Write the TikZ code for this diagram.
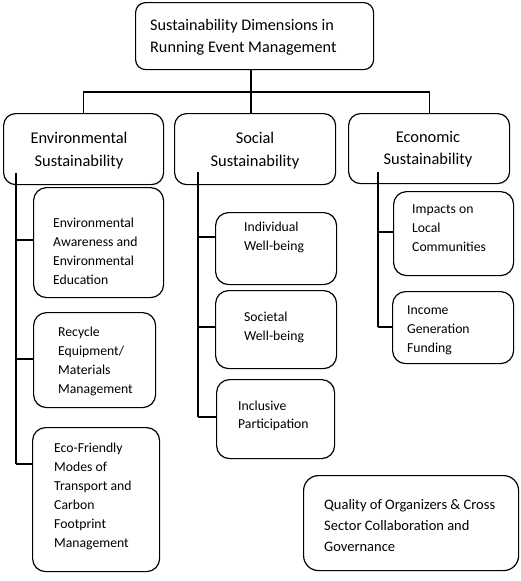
\documentclass[tikz,border=0pt]{standalone}
\usepackage{fontspec}
\setmainfont{Carlito}
\begin{document}
\begin{tikzpicture}[x=1pt,y=-1pt,
  box/.style={draw, line width=1.2pt, rounded corners=13pt, inner sep=0pt, anchor=north west},
  topbox/.style={box, rounded corners=10pt},
  lvbox/.style={box, rounded corners=12pt},
  txt/.style={inner sep=0pt, anchor=base west, align=left, font=\fontsize{13.7}{19}\selectfont},
  lvtxt/.style={inner sep=0pt, anchor=base, align=center, font=\fontsize{16.4}{23}\selectfont},
  conn/.style={line width=1.2pt}]
\useasboundingbox (0,0) rectangle (520,581);
% boxes
\node[topbox, minimum width=238pt, minimum height=67pt] (top) at (135,2) {};
\node[lvbox, minimum width=160pt, minimum height=71pt] (env) at (3,113) {};
\node[lvbox, minimum width=161pt, minimum height=71pt] (soc) at (174,113) {};
\node[lvbox, minimum width=161pt, minimum height=70pt] (eco) at (348,113) {};
\node[box, minimum width=130pt, minimum height=110pt] (e1) at (33,187) {};
\node[box, minimum width=122pt, minimum height=95pt] (e2) at (33,312) {};
\node[box, minimum width=127pt, minimum height=144pt] (e3) at (32,427) {};
\node[box, minimum width=121pt, minimum height=72pt] (s1) at (215,212) {};
\node[box, minimum width=121pt, minimum height=78pt] (s2) at (215,290) {};
\node[box, minimum width=118pt, minimum height=79pt] (s3) at (216,379) {};
\node[box, minimum width=120pt, minimum height=84pt] (c1) at (393,191) {};
\node[box, minimum width=121pt, minimum height=72pt] (c2) at (392,291) {};
\node[box, rounded corners=15pt, minimum width=215pt, minimum height=95pt] (q) at (303,475) {};
% texts (anchored at the baseline of their last line)
\node[txt, font=\fontsize{16.2}{22}\selectfont] (top-t) at (150,52) {Sustainability Dimensions in\\Running Event Management};
\node[lvtxt] (env-t) at (79,166) {Environmental\\Sustainability};
\node[lvtxt] (soc-t) at (255,166) {Social\\Sustainability};
\node[lvtxt, font=\fontsize{16.4}{22}\selectfont] (eco-t) at (428,164) {Economic\\Sustainability};
\node[txt] (e1-t) at (53,284) {Environmental\\Awareness and\\Environmental\\Education};
\node[txt] (e2-t) at (58,393) {Recycle\\Equipment/\\Materials\\Management};
\node[txt] (e3-t) at (54,547) {Eco-Friendly\\Modes of\\Transport and\\Carbon\\Footprint\\Management};
\node[txt] (s1-t) at (244,250) {Individual\\Well-being};
\node[txt] (s2-t) at (244,340) {Societal\\Well-being};
\node[txt, font=\fontsize{13.7}{18}\selectfont] (s3-t) at (238,428) {Inclusive\\Participation};
\node[txt] (c1-t) at (412,251) {Impacts on\\Local\\Communities};
\node[txt] (c2-t) at (407,352) {Income\\Generation\\Funding};
\node[txt, font=\fontsize{14.5}{21}\selectfont] (q-t) at (324,551) {Quality of Organizers \& Cross\\Sector Collaboration and\\Governance};
% connectors level 0 -> 1
\coordinate (j) at (251,92);
\draw[conn] (top.south -| j) -- (soc.north -| j);
\draw[conn] (env.north) |- (j) -| (eco.north);
% environmental branches
\coordinate (ev) at (16,173);
\coordinate (eb1) at (16,240);
\coordinate (eb2) at (16,359);
\coordinate (eb3) at (16,464);
\draw[conn] (ev) -- (eb3);
\draw[conn] (eb1) -- (eb1 -| e1.west);
\draw[conn] (eb2) -- (eb2 -| e2.west);
\draw[conn] (eb3) -- (eb3 -| e3.west);
% social branches
\coordinate (sv) at (198,172);
\coordinate (sb1) at (198,237);
\coordinate (sb2) at (198,327);
\coordinate (sb3) at (198,417);
\draw[conn] (sv) -- (sb3);
\draw[conn] (sb1) -- (sb1 -| s1.west);
\draw[conn] (sb2) -- (sb2 -| s2.west);
\draw[conn] (sb3) -- (sb3 -| s3.west);
% economic branches
\coordinate (cv) at (378,172);
\coordinate (cb1) at (378,232);
\coordinate (cb2) at (378,327);
\draw[conn] (cv) -- (cb2);
\draw[conn] (cb1) -- (cb1 -| c1.west);
\draw[conn] (cb2) -- (cb2 -| c2.west);
\end{tikzpicture}
\end{document}
